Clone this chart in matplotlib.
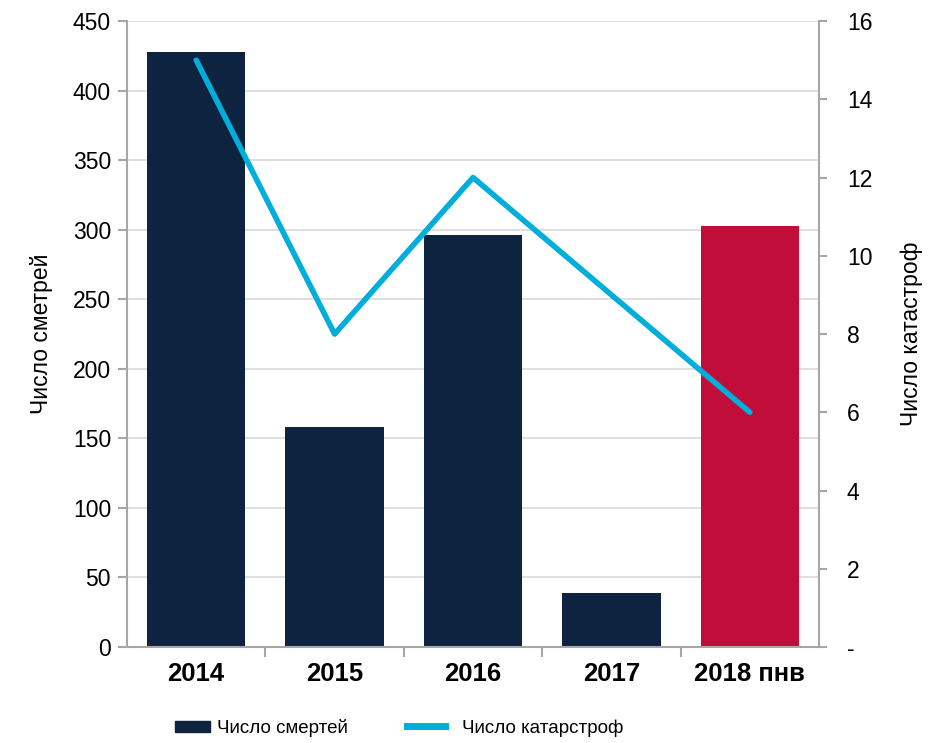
import numpy as np
import matplotlib.pyplot as plt
from matplotlib.lines import Line2D
from matplotlib.patches import Patch

plt.rcParams['font.family'] = ['Liberation Sans', 'DejaVu Sans']

years = ["2014", "2015", "2016", "2017", "2018 пнв"]
deaths = [428, 158, 296, 39, 303]
disasters = [15, 8, 12, 9, 6]
bar_colors = ["#0E2340", "#0E2340", "#0E2340", "#0E2340", "#C00D3A"]

fig = plt.figure(figsize=(9.35, 7.43), dpi=100)
ax = fig.add_axes([0.1358, 0.1292, 0.7402, 0.8425])
x = np.arange(len(years))

ax.bar(x, deaths, width=0.71, color=bar_colors, zorder=2)
ax.set_xlim(-0.5, 4.5)
ax.set_ylim(0, 450)
ax.set_yticks(np.arange(0, 451, 50))
ax.grid(axis='y', color='#D9D9D9', linewidth=1.2, zorder=0)
ax.set_xticks(x)
ax.set_xticklabels(years, fontsize=18.5, fontweight='bold')
ax.set_xticks(np.arange(0.5, 4.5, 1), minor=True)
ax.tick_params(axis='x', which='major', length=0, pad=11)
ax.tick_params(axis='x', which='minor', length=7, color='#A6A6A6', width=1.5)
ax.tick_params(axis='y', labelsize=16.5, length=6.5, color='#A6A6A6', width=1.5, pad=5)
for s in ['top', 'right']:
    ax.spines[s].set_visible(False)
for s in ['left', 'bottom']:
    ax.spines[s].set_color('#A6A6A6')
    ax.spines[s].set_linewidth(1.5)
ax.set_ylabel("Число сметрей", fontsize=16.5, labelpad=14)

ax2 = ax.twinx()
ax2.plot(x, disasters, color="#00AEDB", linewidth=4, solid_capstyle='round', zorder=3)
ax2.set_ylim(0, 16)
ax2.set_yticks(np.arange(0, 17, 2))
ax2.set_yticklabels(["-"] + [str(v) for v in range(2, 17, 2)])
ax2.tick_params(axis='y', labelsize=16.5, length=6, color='#A6A6A6', width=1.5, pad=14)
for s in ['top', 'left', 'bottom']:
    ax2.spines[s].set_visible(False)
ax2.spines['right'].set_color('#A6A6A6')
ax2.spines['right'].set_linewidth(1.5)
ax2.set_ylabel("Число катастроф", fontsize=16.5, labelpad=20)

# two separate legend entries, as in the original
leg_kw = dict(loc='center left', frameon=False, borderpad=0, borderaxespad=0, fontsize=13.5)
leg1 = fig.legend([Patch(color="#0E2340")], ["Число смертей"], bbox_to_anchor=(0.187, 0.02),
                  handlelength=1.87, handleheight=0.53, handletextpad=0.37, **leg_kw)
fig.legend([Line2D([0], [0], color="#00AEDB", linewidth=5)], ["Число катарстроф"],
           bbox_to_anchor=(0.435, 0.02), handlelength=2.03, handletextpad=0.9, **leg_kw)

fig.savefig("out.png", dpi=100)
